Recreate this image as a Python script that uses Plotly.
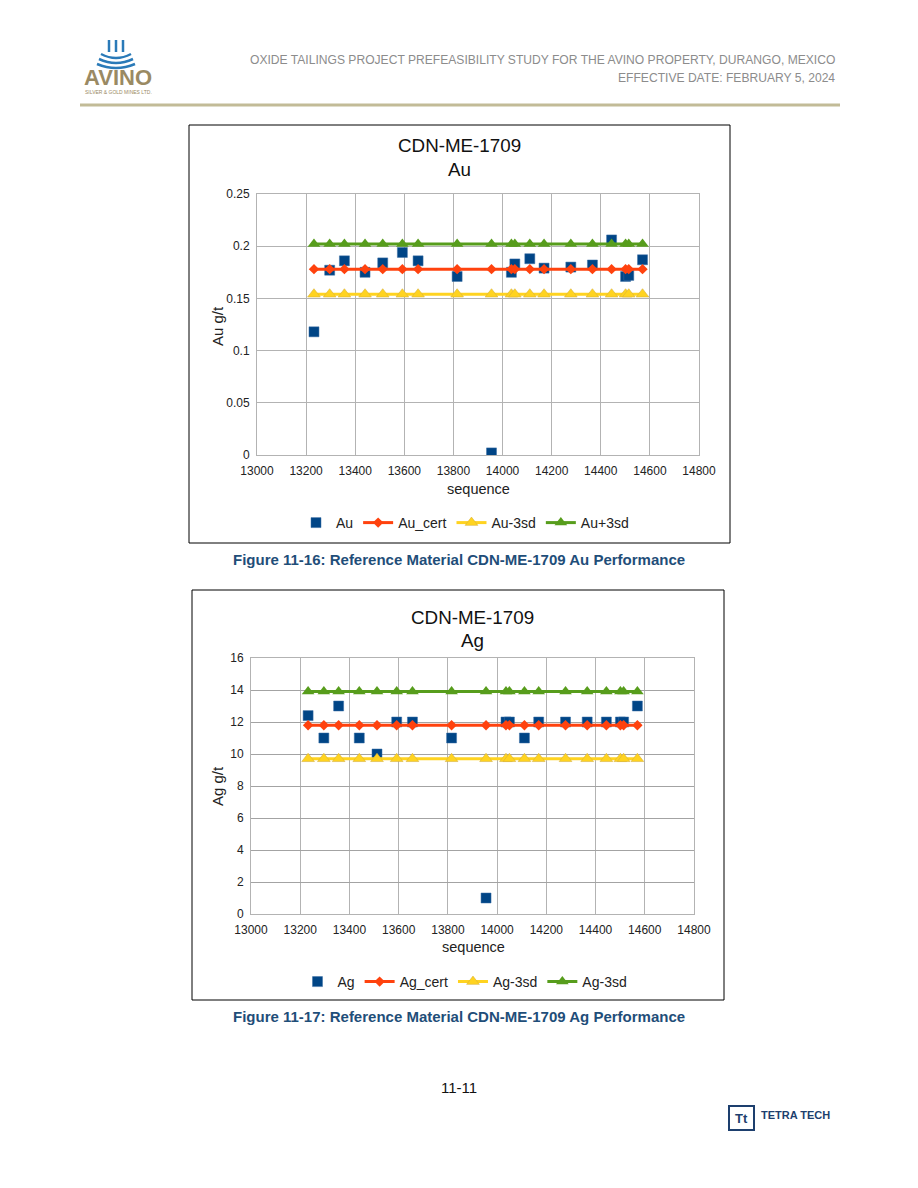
import plotly.graph_objects as go

# ---------------- data ----------------
sequence = [13232, 13296, 13356, 13440, 13512, 13592, 13656, 13815, 13955, 14036,
            14050, 14111, 14169, 14278, 14366, 14444, 14501, 14514, 14570]
au_values = [0.118, 0.177, 0.186, 0.175, 0.184, 0.194, 0.186, 0.171, 0.002, 0.175,
             0.183, 0.188, 0.179, 0.180, 0.182, 0.206, 0.171, 0.172, 0.187]
au_cert = 0.178
au_minus3sd = 0.154
au_plus3sd = 0.202

ag_values = [12.4, 11, 13, 11, 10, 12, 12, 11, 1, 12,
             12, 11, 12, 12, 12, 12, 12, 12, 13]
ag_cert = 11.8
ag_minus3sd = 9.7
ag_plus3sd = 13.9

x_ticks = [13000, 13200, 13400, 13600, 13800, 14000, 14200, 14400, 14600, 14800]

W, H = 918, 1188
FONT = "Liberation Sans, Arial, sans-serif"
BLUE, ORANGE, YELLOW, GREEN = "#004586", "#ff420e", "#ffd320", "#579d1c"
GRID = "#b3b3b3"


def px(x):
    return x / W


def py(y):
    return 1 - y / H


fig = go.Figure()


def add_series(xa, ya, leg, vals, cert, lo, hi, names):
    n = len(sequence)
    fig.add_trace(go.Scatter(x=sequence, y=vals, mode="markers", name=names[0],
                             xaxis=xa, yaxis=ya, legend=leg,
                             marker=dict(symbol="square", size=10, color=BLUE,
                                         line=dict(width=0.5, color="#3a6fa5"))))
    fig.add_trace(go.Scatter(x=sequence, y=[cert] * n, mode="lines+markers", name=names[1],
                             xaxis=xa, yaxis=ya, legend=leg,
                             line=dict(color=ORANGE, width=3),
                             marker=dict(symbol="diamond", size=8, color=ORANGE)))
    fig.add_trace(go.Scatter(x=sequence, y=[lo] * n, mode="lines+markers", name=names[2],
                             xaxis=xa, yaxis=ya, legend=leg,
                             line=dict(color=YELLOW, width=3),
                             marker=dict(symbol="triangle-up", size=11, color=YELLOW,
                                         line=dict(width=0.6, color="#d9b23a"))))
    fig.add_trace(go.Scatter(x=sequence, y=[hi] * n, mode="lines+markers", name=names[3],
                             xaxis=xa, yaxis=ya, legend=leg,
                             line=dict(color=GREEN, width=3),
                             marker=dict(symbol="triangle-up", size=11, color=GREEN)))


add_series("x", "y", "legend", au_values, au_cert, au_minus3sd, au_plus3sd,
           ["Au", "Au_cert", "Au-3sd", "Au+3sd"])
add_series("x2", "y2", "legend2", ag_values, ag_cert, ag_minus3sd, ag_plus3sd,
           ["Ag", "Ag_cert", "Ag-3sd", "Ag-3sd"])

axis_common = dict(showgrid=True, gridwidth=1, zeroline=False,
                   showline=True, linecolor=GRID, linewidth=1, mirror=True,
                   ticks="", tickfont=dict(family=FONT, size=12, color="#222"))

fig.update_layout(
    width=W, height=H,
    margin=dict(l=0, r=0, t=0, b=0, autoexpand=False),
    paper_bgcolor="white", plot_bgcolor="white",
    font=dict(family=FONT, color="#222"),
    showlegend=True,
    xaxis=dict(domain=[px(257), px(699)], anchor="y", range=[13000, 14800],
               tickvals=x_ticks, tickformat="d", ticklabelstandoff=5,
               gridcolor=GRID, **axis_common),
    yaxis=dict(domain=[py(455), py(194)], anchor="x", range=[0, 0.25],
               tickvals=[0, 0.05, 0.1, 0.15, 0.2, 0.25],
               ticktext=["0", "0.05", "0.1", "0.15", "0.2", "0.25"], ticklabelstandoff=4,
               gridcolor=GRID, **axis_common),
    xaxis2=dict(domain=[px(251), px(694)], anchor="y2", range=[13000, 14800],
                tickvals=x_ticks, tickformat="d", ticklabelstandoff=5,
                gridcolor=GRID, **axis_common),
    yaxis2=dict(domain=[py(914), py(658)], anchor="x2", range=[0, 16],
                tickvals=[0, 2, 4, 6, 8, 10, 12, 14, 16], ticklabelstandoff=4,
                gridcolor="#a3a3a3", **axis_common),
    legend=dict(orientation="h", x=px(465), y=py(523), xanchor="center", yanchor="middle",
                font=dict(family=FONT, size=14, color="#222"), itemwidth=30,
                bgcolor="rgba(0,0,0,0)", traceorder="normal"),
    legend2=dict(orientation="h", x=px(465), y=py(982), xanchor="center", yanchor="middle",
                 font=dict(family=FONT, size=14, color="#222"), itemwidth=30,
                 bgcolor="rgba(0,0,0,0)", traceorder="normal"),
)

shapes = []
# chart borders
shapes.append(dict(type="rect", xref="paper", yref="paper", x0=px(189), x1=px(730),
                   y0=py(543), y1=py(125), line=dict(color="black", width=1)))
shapes.append(dict(type="rect", xref="paper", yref="paper", x0=px(192), x1=px(724),
                   y0=py(1000), y1=py(590), line=dict(color="black", width=1)))
# header rule
shapes.append(dict(type="line", xref="paper", yref="paper", x0=px(80), x1=px(840),
                   y0=py(105), y1=py(105), line=dict(color="#c2bb97", width=3)))
# AVINO logo icon (approximation)
for xx in (109, 116, 123):
    shapes.append(dict(type="line", xref="paper", yref="paper", x0=px(xx), x1=px(xx),
                       y0=py(40), y1=py(52), line=dict(color="#2a7ab8", width=2.5)))
for i, yy in enumerate((54, 59, 64)):
    shapes.append(dict(type="path", xref="paper", yref="paper",
                       path=f"M {px(101 - i*2)},{py(yy)} Q {px(116)},{py(yy + 8)} {px(131 + i*2)},{py(yy)}",
                       line=dict(color="#2a7ab8", width=2.5)))
# Tetra Tech logo box
shapes.append(dict(type="rect", xref="paper", yref="paper", x0=px(729), x1=px(754),
                   y0=py(1130), y1=py(1106), line=dict(color="#1d3f6e", width=2),
                   fillcolor="white"))
fig.update_layout(shapes=shapes)

ann = []


def text(x, y, s, size, color="#222", bold=False, anchor="center", family=FONT, angle=0):
    ann.append(dict(xref="paper", yref="paper", x=px(x), y=py(y), text=(f"<b>{s}</b>" if bold else s),
                    showarrow=False, xanchor=anchor, yanchor="middle", textangle=angle,
                    font=dict(family=family, size=size, color=color)))


# chart 1 texts
text(459, 146, "CDN-ME-1709", 18.8, "#111")
text(459, 169, "Au", 18.8, "#111")
text(479, 489, "sequence", 14.5)
text(217, 326, "Au g/t", 15, angle=-90)
# chart 2 texts
text(472, 617, "CDN-ME-1709", 18.8, "#111")
text(472, 640, "Ag", 18.8, "#111")
text(473, 947, "sequence", 14.5)
text(217, 786, "Ag g/t", 15, angle=-90)
# captions
text(459, 559, "Figure 11-16: Reference Material CDN-ME-1709 Au Performance", 15, "#1f4e79", bold=True)
text(459, 1016, "Figure 11-17: Reference Material CDN-ME-1709 Ag Performance", 15, "#1f4e79", bold=True)
# header
text(837, 60, "OXIDE TAILINGS PROJECT PREFEASIBILITY STUDY FOR THE AVINO PROPERTY, DURANGO, MEXICO",
     12.1, "#8c8c8c", anchor="right")
text(837, 78, "EFFECTIVE DATE: FEBRUARY 5, 2024", 12.1, "#8c8c8c", anchor="right")
text(118, 78, "AVINO", 22, "#9a8a63", bold=True)
text(118, 92, "SILVER &amp; GOLD MINES LTD.", 5, "#9a8a63")
# footer
text(459, 1087, "11-11", 15, "#111")
text(741, 1118, "Tt", 13, "#1d3f6e", bold=True)
text(759, 1115, "TETRA TECH", 11, "#1d3f6e", bold=True, anchor="left")

fig.update_layout(annotations=ann)

fig.write_html("out.html", config={"displayModeBar": False},
               post_script="document.body.style.margin='0';document.body.style.overflow='hidden';")
